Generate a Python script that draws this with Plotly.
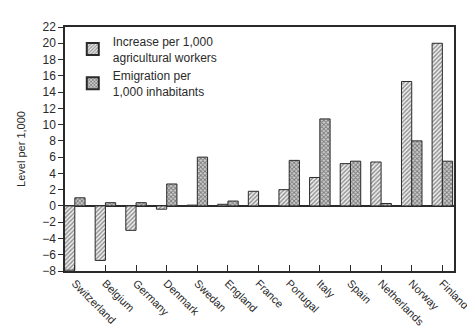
import plotly.graph_objects as go

countries = ["Switzerland", "Belgium", "Germany", "Denmark", "Swedan", "England",
             "France", "Portugal", "Italy", "Spain", "Netherlands", "Norway", "Finland"]
increase = [-7.9, -6.7, -3.0, -0.4, 0.1, 0.2, 1.8, 2.0, 3.5, 5.2, 5.4, 15.3, 20.0]
emigration = [1.0, 0.4, 0.4, 2.7, 6.0, 0.6, 0.0, 5.6, 10.7, 5.5, 0.3, 8.0, 5.5]
y_ticks = list(range(-8, 23, 2))

font_fam = "Liberation Sans, Arial, sans-serif"
ink = "#2a2a2a"

fig = go.Figure()
fig.add_trace(go.Bar(
    x=countries, y=increase,
    name="Increase per 1,000<br>agricultural workers",
    marker=dict(color="white", line=dict(color=ink, width=1),
                pattern=dict(shape="/", size=3, solidity=0.5, fgcolor="#333", bgcolor="#f2f2f2")),
))
fig.add_trace(go.Bar(
    x=countries, y=emigration,
    name="Emigration per<br>1,000 inhabitants",
    marker=dict(color="white", line=dict(color=ink, width=1),
                pattern=dict(shape="x", size=3, solidity=0.5, fgcolor="#222", bgcolor="#cfcfcf")),
))

fig.update_layout(
    width=475, height=332,
    margin=dict(l=57, r=17, t=12, b=54),
    paper_bgcolor="white", plot_bgcolor="white",
    barmode="group", bargap=0.33, bargroupgap=0.0,
    font=dict(family=font_fam, color=ink, size=11),
    showlegend=True,
    legend=dict(x=0.02, y=1.0, xanchor="left", yanchor="top",
                bgcolor="rgba(0,0,0,0)", font=dict(size=12, color=ink),
                tracegroupgap=4, itemsizing="constant"),
    xaxis=dict(range=[-0.32, 12.38], tickangle=45, ticks="inside", ticklen=6,
               tickcolor=ink, showline=True, linecolor=ink, linewidth=1.5, mirror=True,
               showgrid=False, tickfont=dict(size=11, color=ink)),
    yaxis=dict(range=[-8, 22], tickvals=y_ticks, ticks="outside", ticklen=5,
               tickcolor=ink, showline=True, linecolor=ink, linewidth=1.5, mirror=True,
               showgrid=False, zeroline=True, zerolinecolor=ink, zerolinewidth=1.5,
               tickfont=dict(size=12, color=ink),
               title=dict(text="Level per 1,000", font=dict(size=11, color=ink), standoff=14)),
)

fig.write_html("out.html")
